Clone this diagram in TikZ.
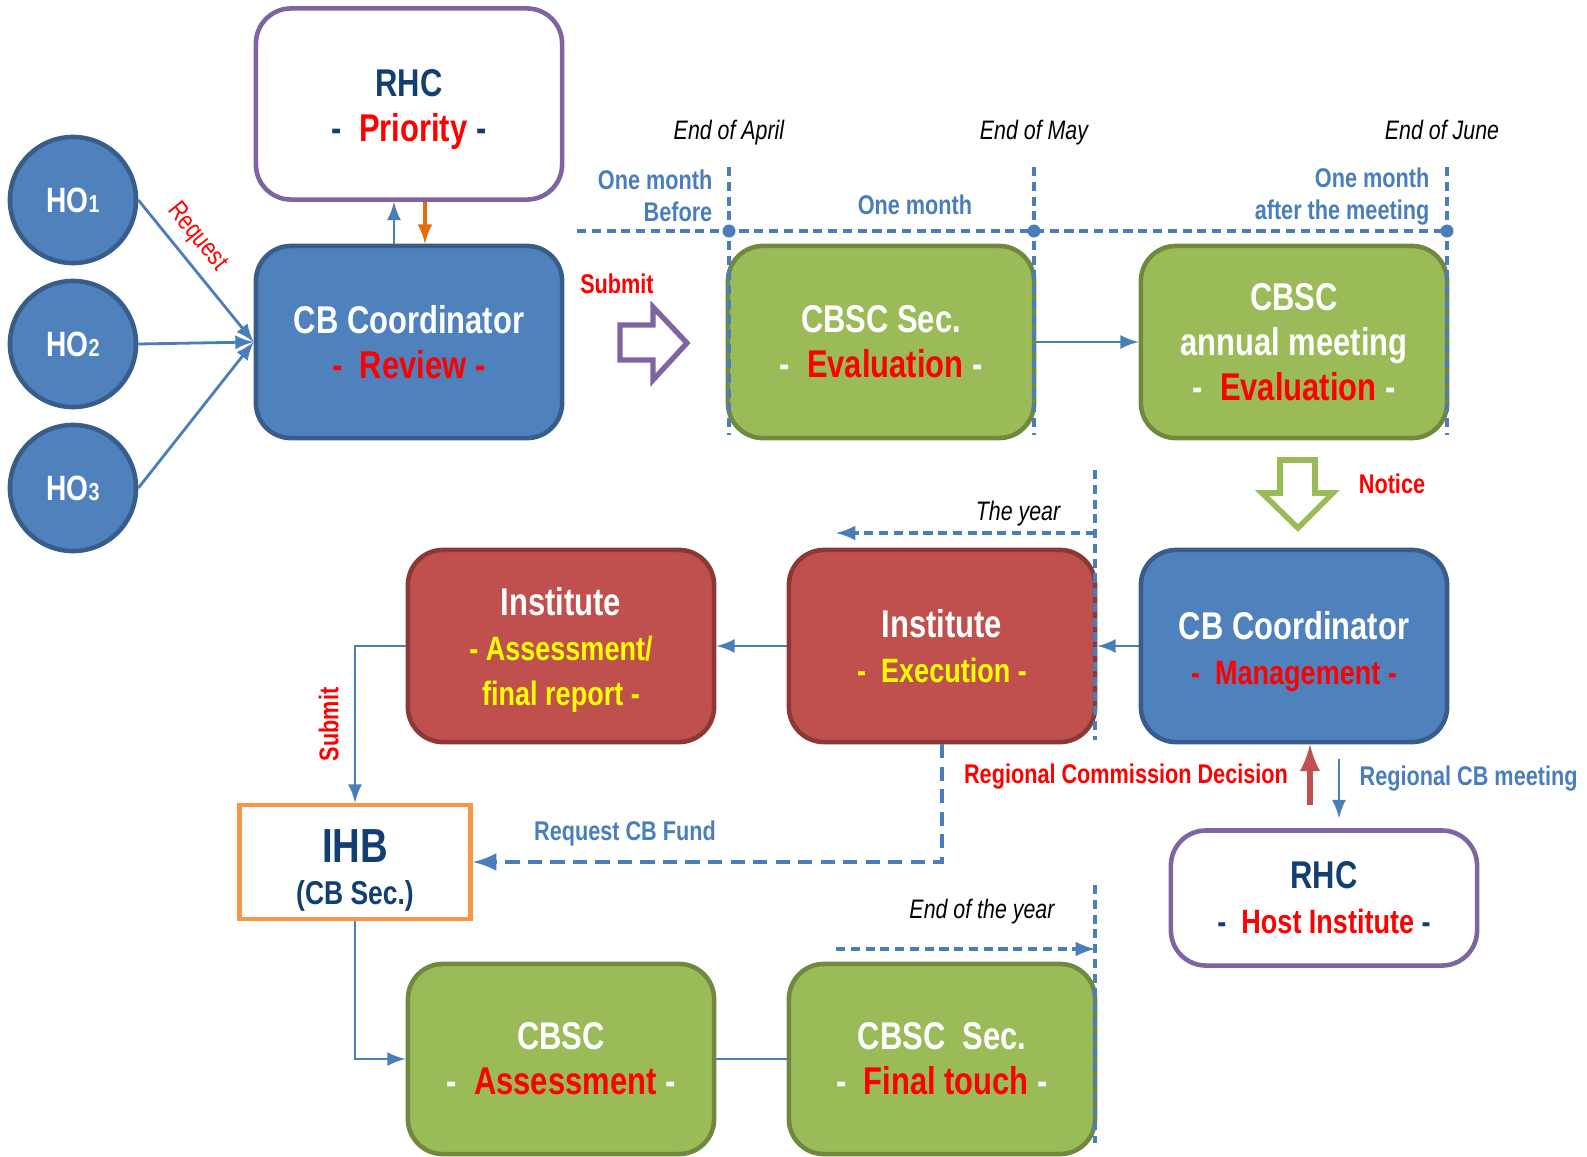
\documentclass[tikz,border=0pt]{standalone}
\usepackage{fontspec}
\setmainfont{Liberation Sans}[FakeStretch=0.8]
\usepackage{tikz}
\usetikzlibrary{positioning, calc}

\definecolor{bxblue}{HTML}{4F81BD}
\definecolor{bxblueD}{HTML}{385D8A}
\definecolor{bxgreen}{HTML}{9BBB59}
\definecolor{bxgreenD}{HTML}{71893F}
\definecolor{bxred}{HTML}{C0504D}
\definecolor{bxredD}{HTML}{8C3836}
\definecolor{bxpurple}{HTML}{8064A2}
\definecolor{bxorange}{HTML}{F79646}
\definecolor{arrorange}{HTML}{E46C0A}
\definecolor{navy}{HTML}{123F72}
\definecolor{lnblue}{HTML}{4A7EBB}
\definecolor{hired}{HTML}{FF0000}
\definecolor{hiyel}{HTML}{FFFF00}

\newcommand{\smallred}{\fontsize{9.6}{11.9}\selectfont}

\tikzset{
	box/.style={rounded corners=0.35cm, line width=1.3pt, minimum width=3.06cm, minimum height=1.92cm, align=center, inner sep=0pt, font=\bfseries\fontsize{11}{12.8}\selectfont},
	bluebox/.style={box, fill=bxblue, draw=bxblueD, text=white},
	greenbox/.style={box, fill=bxgreen, draw=bxgreenD, text=white},
	redbox/.style={box, fill=bxred, draw=bxredD, text=white},
	rhcbox/.style={box, fill=white, draw=bxpurple, text=navy},
	ho/.style={circle, fill=bxblue, draw=bxblueD, line width=1.3pt, minimum size=1.26cm, inner sep=0pt, text=white, font=\bfseries\fontsize{10}{12}\selectfont},
	link/.style={lnblue, line width=0.8pt},
	tline/.style={lnblue, line width=0.9pt, dash pattern=on 2.6pt off 1.6pt},
	lbl/.style={inner sep=0pt, font=\bfseries\fontsize{7.7}{9.1}\selectfont},
	when/.style={inner sep=0pt, font=\itshape\fontsize{7.6}{9}\selectfont},
}

\begin{document}
\begin{tikzpicture}[x=0.01cm, y=-0.01cm]
		\useasboundingbox (0,0) rectangle (1587,1157);
		
		% HO
		\node[ho] (ho1) at (73,200) {HO{\fontsize{7}{8}\selectfont 1}};
		\node[ho] (ho2) at (73,344) {HO{\fontsize{7}{8}\selectfont 2}};
		\node[ho] (ho3) at (73,488) {HO{\fontsize{7}{8}\selectfont 3}};
		
		% CB Coordinator e RHC
		\node[bluebox] (cbR) at (409,342) {CB Coordinator\\{\color{hired}-\ \ Review -}};
		\node[rhcbox, minimum height=1.91cm] (rhcP) at (409,104) {\rule{0pt}{11pt}RHC\\-\ \ {\color{hired}Priority} -};
		
		\draw[link, -latex] (ho1.east) -- node[sloped, above, pos=0.36, inner sep=2.5pt, text=hired, font=\fontsize{7.5}{9}\selectfont]{Request} (cbR.west);
		\draw[link, -latex] (ho2.east) -- (cbR.west);
		\draw[link, -latex] (ho3.east) -- (cbR.west);
		
		\draw[link, -latex] ([xshift=-0.15cm]cbR.north) -- ([xshift=-0.15cm]rhcP.south);
		\draw[arrorange, line width=0.9pt, -latex] ([xshift=0.16cm]rhcP.south) -- ([xshift=0.16cm]cbR.north);
		
		% Submit
		\node[lbl, text=hired] (subTxt) at (617,284) {Submit};
		\draw[bxpurple, line width=1.5pt, fill=white] (620,325) -- (653,325) -- (653,307) -- (687,343) -- (653,380) -- (653,360) -- (620,360) -- cycle;
		
		% CBSC
		\node[greenbox] (secE) at (881,342) {CBSC Sec.\\-\ \ {\color{hired}Evaluation} -};
		\node[greenbox] (meet) at (1294,342) {CBSC\\annual meeting\\-\ \ {\color{hired}Evaluation} -};
		\draw[link, -latex] (secE.east) -- (meet.west);
		
		% timeline
		\coordinate (tA) at (729,231);
		\coordinate (tM) at (1034,231);
		\coordinate (tJ) at (1447,231);
		\draw[tline] (577,231) -- (tJ);
		\draw[tline] (729,167) -- (729,435);
		\draw[tline] (1034,167) -- (1034,435);
		\draw[tline] (1447,167) -- (1447,435);
		\fill[lnblue] (tA) circle (0.065cm) (tM) circle (0.065cm) (tJ) circle (0.065cm);
		
		\node[when] at (729,133) {End of April};
		\node[when] at (1034,133) {End of May};
		\node[when] at (1442,130) {End of June};
		\node[lbl, text=lnblue, align=right, anchor=east] at (713,196) {One month\\Before};
		\node[lbl, text=lnblue] at (915,205) {One month};
		\node[lbl, text=lnblue, align=right, anchor=east] at (1430,197) {One month\\after the meeting};
		
		% Notice
		\draw[bxgreen, line width=1.6pt, fill=white] (1280,460) -- (1315,460) -- (1315,493) -- (1333,493) -- (1298,528) -- (1262,493) -- (1280,493) -- cycle;
		\node[lbl, text=hired] (ntc) at (1392,484) {Notice};
		
		% Institute e management
		\node[bluebox] (mgmt) at (1294,646) {\rule{0pt}{11pt}CB Coordinator\\{\smallred\color{hired}-\ \ Management -}};
		\node[redbox] (exec) at (942,646) {Institute\\{\smallred\color{hiyel}-\ \ Execution -}};
		\node[redbox] (instA) at (561,646) {\rule{0pt}{10.5pt}Institute\\{\smallred\color{hiyel}- Assessment/}\\{\smallred\color{hiyel}final report -}};
		\draw[link, -latex] (mgmt.west) -- (exec.east);
		\draw[link, -latex] (exec.west) -- (instA.east);
		
		\draw[tline, -latex] (1095,533) -- (836,533);
		\draw[tline] (1095,470) -- (1095,740);
		\node[when] at (1018,514) {The year};
		
		% IHB
		\node[draw=bxorange, line width=1.3pt, fill=white, minimum width=2.31cm, minimum height=1.14cm, align=center, inner sep=0pt, text=navy, font=\bfseries] (ihb) at (355,862) {\rule{0pt}{14pt}{\fontsize{13.6}{15}\selectfont IHB}\\[0pt]{\fontsize{9.4}{11}\selectfont (CB Sec.)}};
		\draw[link, -latex] (instA.west) -| (ihb.north) node[pos=0.75, left=0.15cm, lbl, text=hired, rotate=90, anchor=south]{Submit};
		
		\draw[lnblue, line width=1.3pt, dash pattern=on 4pt off 2.4pt, -latex] (exec.south) |- (ihb.east);
		\node[lbl, text=lnblue] at (625,833) {Request CB Fund};
		
		% RHC host
		\node[rhcbox, minimum height=1.35cm] (host) at (1324,898) {RHC\\{\smallred -\ \ {\color{hired}Host Institute} -}};
		\coordinate (rcd) at (1310,805);
		\coordinate (rcb) at (1339,759);
		\draw[bxred, line width=1.6pt, -latex] (rcd) -- (rcd |- mgmt.south);
		\draw[link, -latex] (rcb) -- ([yshift=0.1cm]rcb |- host.north);
		\node[lbl, text=hired] at (1126,777) {Regional Commission Decision};
		\node[lbl, text=lnblue, anchor=west] at (1359,779) {Regional CB meeting};
		
		% CBSC final
		\node[greenbox, minimum height=1.9cm] (cbscA) at (561,1059) {CBSC\\-\ \ {\color{hired}Assessment} -};
		\node[greenbox, minimum height=1.9cm] (fin) at (942,1059) {CBSC\ \ Sec.\\-\ \ {\color{hired}Final touch} -};
		\draw[link, -latex] (ihb.south) |- (cbscA.west);
		\draw[link] (cbscA.east) -- (fin.west);
		
		\draw[tline, -latex] (836,949) -- (1095,949);
		\draw[tline] (1095,885) -- (1095,1143);
		\node[when] at (982,912) {End of the year};
\end{tikzpicture}
\end{document}
